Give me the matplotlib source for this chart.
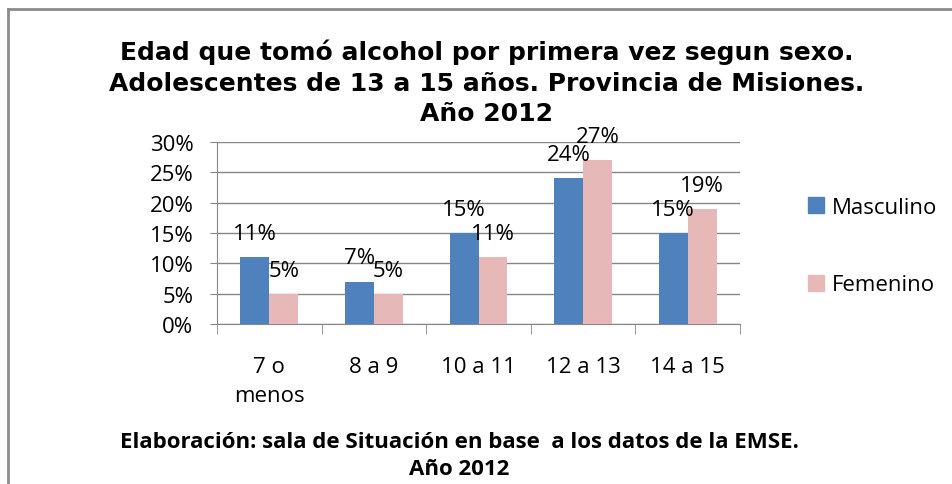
import matplotlib
matplotlib.use('Agg')
import matplotlib.pyplot as plt
from matplotlib.lines import Line2D
import numpy as np

# data
categories = ['7 o\nmenos', '8 a 9', '10 a 11', '12 a 13', '14 a 15']
masculino = [11, 7, 15, 24, 15]
femenino = [5, 5, 11, 27, 19]
yticks = [0, 5, 10, 15, 20, 25, 30]

blue = '#4F81BD'
pink = '#E6B9B8'
grid_col = '#868686'
body_font = 'Open Sans'
title_font = 'DejaVu Sans'
fs = 16

fig = plt.figure(figsize=(9.52, 4.85), dpi=100)
ax = fig.add_axes([217 / 952, 1 - 325 / 485, 523 / 952, 182 / 485])

x = np.arange(len(categories))
w = 0.277
ax.bar(x - w / 2, masculino, w, color=blue, label='Masculino', zorder=3)
ax.bar(x + w / 2, femenino, w, color=pink, label='Femenino', zorder=3)

# value labels above each bar
for xs, vals in [(x - w / 2, masculino), (x + w / 2, femenino)]:
    for xi, v in zip(xs, vals):
        ax.annotate(f'{v}%', (xi, v), xytext=(0, 13), textcoords='offset points',
                    ha='center', va='baseline', fontsize=fs, family=body_font,
                    color='#000000', zorder=4)

ax.set_xlim(-0.5, len(categories) - 0.5)
ax.set_ylim(0, 30)
ax.set_yticks(yticks)
ax.set_yticklabels([f'{t}%' for t in yticks], fontsize=fs, family=body_font)
ax.yaxis.grid(True, color=grid_col, linewidth=1)
ax.set_axisbelow(True)
ax.tick_params(axis='y', length=5, color=grid_col, pad=12)

ax.set_xticks(x)
ax.set_xticklabels(categories, fontsize=fs, family=body_font, linespacing=1.5)
ax.set_xticks(np.arange(len(categories) + 1) - 0.5, minor=True)
ax.tick_params(axis='x', which='major', length=0, pad=23)
ax.tick_params(axis='x', which='minor', length=7, color=grid_col)

for s in ['top', 'right']:
    ax.spines[s].set_visible(False)
ax.spines['left'].set_color(grid_col)
ax.spines['bottom'].set_color(grid_col)

# legend on the right
handles = [Line2D([], [], marker='s', linestyle='none', markersize=11,
                  markerfacecolor=c, markeredgecolor=c) for c in (blue, pink)]
fig.legend(handles, ['Masculino', 'Femenino'], loc='center left',
           bbox_to_anchor=(783 / 952, 1 - 247 / 485), frameon=False,
           prop={'family': body_font, 'size': fs}, labelspacing=2.55,
           handletextpad=0.1, handlelength=1.2)

fig.text(487 / 952, 1 - 83 / 485,
         'Edad que tomó alcohol por primera vez segun sexo.\n'
         'Adolescentes de 13 a 15 años. Provincia de Misiones.\n'
         'Año 2012',
         ha='center', va='center', fontsize=18, fontweight='bold',
         family=title_font, linespacing=1.35)

fig.text(459 / 952, 1 - 456 / 485,
         'Elaboración: sala de Situación en base  a los datos de la EMSE.\nAño 2012',
         ha='center', va='center', fontsize=16, fontweight='bold',
         family=body_font, linespacing=1.4)

# outer frame (top and left edges visible)
fig.add_artist(Line2D([8 / 952, 8 / 952], [0, 1 - 10 / 485], transform=fig.transFigure,
                      color='#8C8C8C', linewidth=2))
fig.add_artist(Line2D([8 / 952, 1], [1 - 10 / 485, 1 - 10 / 485], transform=fig.transFigure,
                      color='#8C8C8C', linewidth=2))

fig.savefig('out.png', dpi=100)
